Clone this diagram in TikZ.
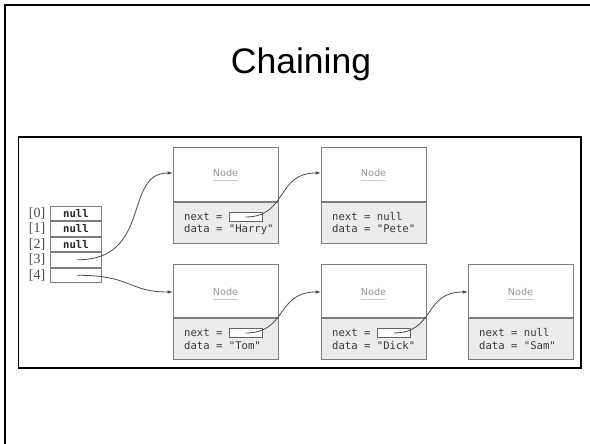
\documentclass[tikz,border=0pt]{standalone}
\usepackage{fontspec}
\setmainfont{Liberation Sans}
\newfontfamily\codefont{DejaVu Sans Mono}
\newfontfamily\labelfont{DejaVu Sans}
\newfontfamily\indexfont{Liberation Serif}
\usetikzlibrary{arrows.meta,calc}

\definecolor{boxline}{RGB}{125,125,125}
\definecolor{boxfill}{RGB}{236,236,236}
\definecolor{codetext}{RGB}{55,55,55}
\definecolor{tagtext}{RGB}{150,150,150}
\definecolor{tagrule}{RGB}{205,205,205}
\definecolor{linkline}{RGB}{75,75,75}

\tikzset{
  frame/.style={draw=black, line width=1.8pt},
  nodehead/.style={draw=boxline, fill=white, line width=0.8pt,
    minimum width=105pt, minimum height=53.5pt, anchor=north west, inner sep=0pt},
  nodebody/.style={draw=boxline, fill=boxfill, line width=0.8pt,
    minimum width=105pt, minimum height=41pt, anchor=north west, inner sep=0pt},
  tag/.style={font=\labelfont\fontsize{9.7}{11}\selectfont, text=tagtext, inner sep=0pt},
  tagline/.style={draw=tagrule, line width=0.8pt},
  code/.style={font=\codefont\fontsize{10.6}{12}\selectfont, text=codetext,
    anchor=base west, inner sep=0pt},
  ptr/.style={draw=boxline!80!black, fill=white, line width=0.7pt,
    minimum width=33pt, minimum height=9pt, inner sep=0pt},
  cell/.style={draw=boxline, fill=white, line width=0.8pt, minimum width=51pt,
    minimum height=14.66pt, inner sep=0pt, anchor=north west,
    font=\codefont\bfseries\fontsize{10.6}{12}\selectfont, text=black!85},
  idx/.style={font=\indexfont\fontsize{14}{15}\selectfont, text=black!70,
    anchor=east, inner sep=0pt},
  link/.style={draw=linkline, line width=0.8pt, -{Latex[length=5.5pt,width=3.6pt]}},
}

\begin{document}
\begin{tikzpicture}[x=1pt,y=-1pt]
\useasboundingbox (0,0) rectangle (590,444);

% slide frame and title
\draw[frame, line join=miter] (5.3,444) -- (5.3,5) -- (590,5);
\node[font=\fontsize{35.5}{40}\selectfont, anchor=base, inner sep=0pt] (title) at (301,74) {Chaining};

% figure frame
\draw[frame] (18.5,137) rectangle (581,368);

% hash table
\node[cell] (c0) at (50,205.7) {null};
\node[cell] (c1) at (c0.south west) {null};
\node[cell] (c2) at (c1.south west) {null};
\node[cell] (c3) at (c2.south west) {};
\node[cell] (c4) at (c3.south west) {};
\foreach \i in {0,...,4} {
  \node[idx] (i\i) at ([xshift=-4.5pt]c\i.west) {[\i]};
}

% first chain: Harry -> Pete
\node[nodehead] (harry) at (173,147.5) {};
\node[nodebody] (harryB) at (harry.south west) {};
\node[tag] (harryL) at (225.5,173) {Node};
\draw[tagline] ([yshift=-3pt]harryL.south west) -- ([yshift=-3pt]harryL.south east);
\node[code] (harryN) at (184,220) {next =};
\node[code] (harryD) at (184,233) {data = "Harry"};
\node[ptr] (harryP) at (245.5,217) {};

\node[nodehead] (pete) at (321,147.5) {};
\node[nodebody] (peteB) at (pete.south west) {};
\node[tag] (peteL) at (373.5,173) {Node};
\draw[tagline] ([yshift=-3pt]peteL.south west) -- ([yshift=-3pt]peteL.south east);
\node[code] (peteN) at (332,220) {next = null};
\node[code] (peteD) at (332,233) {data = "Pete"};

% second chain: Tom -> Dick -> Sam
\node[nodehead] (tom) at (173,263.5) {};
\node[nodebody] (tomB) at (tom.south west) {};
\node[tag] (tomL) at (225.5,292) {Node};
\draw[tagline] ([yshift=-3pt]tomL.south west) -- ([yshift=-3pt]tomL.south east);
\node[code] (tomN) at (184,336) {next =};
\node[code] (tomD) at (184,349) {data = "Tom"};
\node[ptr] (tomP) at (245.5,333) {};

\node[nodehead] (dick) at (321,263.5) {};
\node[nodebody] (dickB) at (dick.south west) {};
\node[tag] (dickL) at (373.5,292) {Node};
\draw[tagline] ([yshift=-3pt]dickL.south west) -- ([yshift=-3pt]dickL.south east);
\node[code] (dickN) at (332,336) {next =};
\node[code] (dickD) at (332,349) {data = "Dick"};
\node[ptr] (dickP) at (393.5,333) {};

\node[nodehead] (sam) at (468,263.5) {};
\node[nodebody] (samB) at (sam.south west) {};
\node[tag] (samL) at (520.5,292) {Node};
\draw[tagline] ([yshift=-3pt]samL.south west) -- ([yshift=-3pt]samL.south east);
\node[code] (samN) at (479,336) {next = null};
\node[code] (samD) at (479,349) {data = "Sam"};

% references
\draw[link] ([xshift=1.5pt]c3.center) .. controls +(75,0) and +(-50,0) .. (harry.west |- harryL.center);
\draw[link] ([xshift=1.5pt]c4.center) .. controls +(55,0) and +(-45,0) .. (tom.west |- tomL.center);
\draw[link] (harryP.center) .. controls +(42,0) and +(-45,0) .. (pete.west |- peteL.center);
\draw[link] (tomP.center) .. controls +(42,0) and +(-45,0) .. (dick.west |- dickL.center);
\draw[link] (dickP.center) .. controls +(42,0) and +(-45,0) .. (sam.west |- samL.center);
\end{tikzpicture}
\end{document}
